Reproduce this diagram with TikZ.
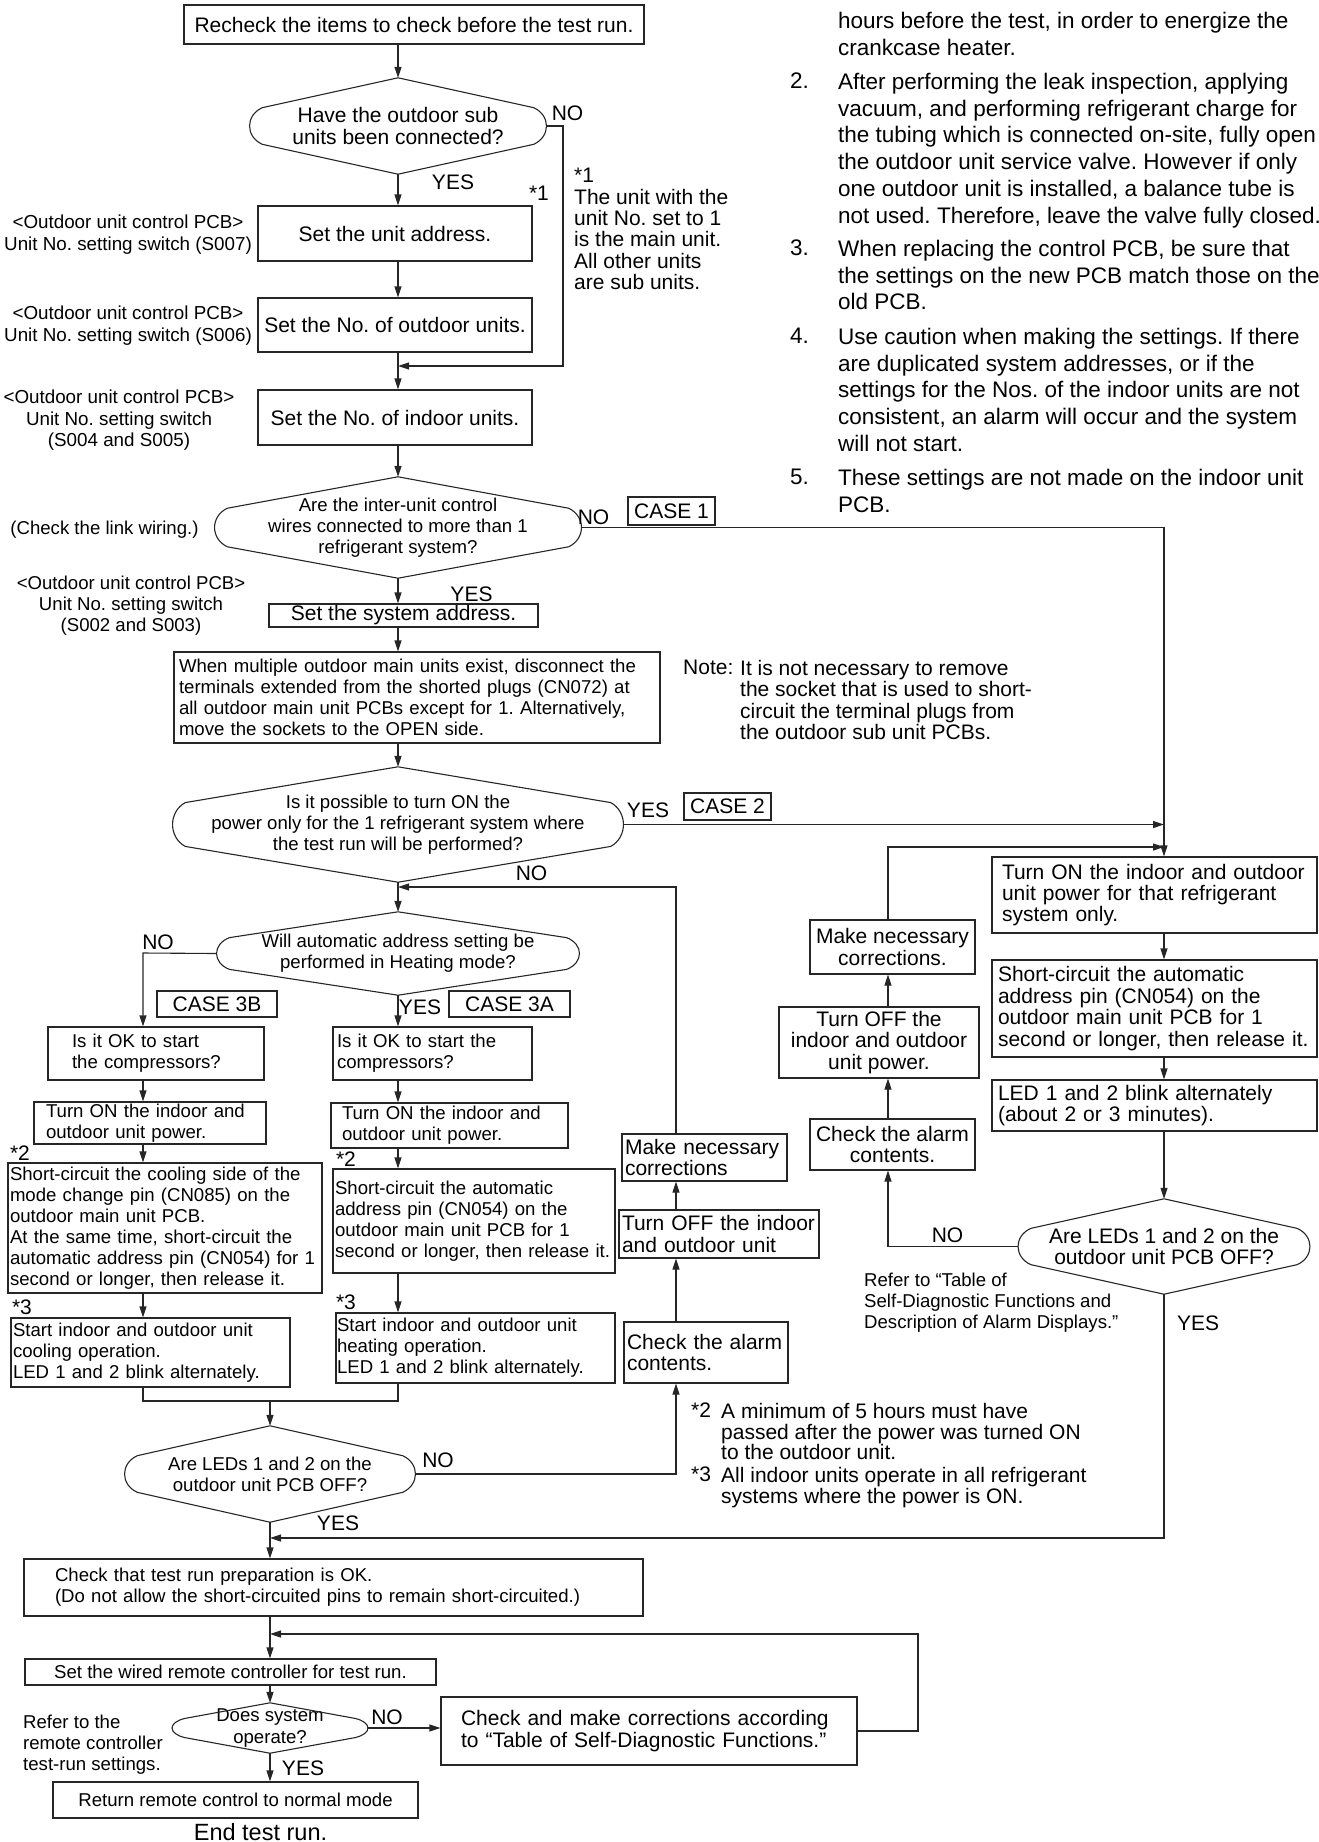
\documentclass[tikz,border=0pt]{standalone}
\usepackage{fontspec}
\setmainfont{Liberation Sans}
\frenchspacing
\usetikzlibrary{calc}
\usetikzlibrary{arrows.meta}
\newcommand\fa{\fontsize{21}{21.4}\selectfont}
\newcommand\fb{\fontsize{18.6}{21.1}\selectfont}
\newcommand\fc{\fontsize{18.8}{21.2}\selectfont}
\newcommand\fn{\fontsize{22.5}{26.7}\selectfont}
\tikzstyle{line}=[line width=1.1pt, draw=black!85]
\tikzstyle{flow}=[line, -{Triangle[length=11pt,width=7pt]}]
\tikzstyle{box}=[line, draw, inner sep=0pt, align=left]
\tikzstyle{cbox}=[line, draw, inner sep=0pt, align=center]
\tikzstyle{decision}=[inner sep=0pt, align=center]
\tikzstyle{txt}=[inner sep=0pt, align=left, anchor=north west]
\tikzstyle{lbl}=[inner sep=0pt, align=center, anchor=north]
\tikzstyle{yn}=[inner sep=0pt, font=\fa]
\newcommand\decshape[1]{%
  \draw[line] (#1.north)
    -- ($(#1.west)!0.38!(#1.north west)+(13pt,0pt)$)
    .. controls ($(#1.west)!0.22!(#1.north west)+(-4pt,0pt)$) and ($(#1.west)!0.22!(#1.south west)+(-4pt,0pt)$)
    .. ($(#1.west)!0.38!(#1.south west)+(13pt,0pt)$)
    -- (#1.south)
    -- ($(#1.east)!0.38!(#1.south east)+(-13pt,0pt)$)
    .. controls ($(#1.east)!0.22!(#1.south east)+(4pt,0pt)$) and ($(#1.east)!0.22!(#1.north east)+(4pt,0pt)$)
    .. ($(#1.east)!0.38!(#1.north east)+(-13pt,0pt)$)
    -- cycle;}

\begin{document}
\begin{tikzpicture}[x=1pt, y=-1pt]
\useasboundingbox (0,0) rectangle (1319,1842);

\node[cbox, font=\fa, minimum width=460pt, minimum height=39pt] (recheck) at (414,24.5) {Recheck the items to check before the test run.};
\node[decision, font=\fa, minimum width=297pt, minimum height=96pt] (dec1) at (398,126) {Have the outdoor sub\\units been connected?};
\node[cbox, font=\fa, minimum width=274pt, minimum height=55pt] (unitaddr) at (395,233.5) {Set the unit address.};
\node[cbox, font=\fa, minimum width=274pt, minimum height=54pt] (outunits) at (395,325) {Set the No. of outdoor units.};
\node[cbox, font=\fa, minimum width=274pt, minimum height=55pt] (inunits) at (395,417.5) {Set the No. of indoor units.};
\node[decision, font=\fb, minimum width=367pt, minimum height=101pt] (dec2) at (398,527.5) {Are the inter-unit control\\wires connected to more than 1\\refrigerant system?};
\node[cbox, font=\fa, minimum width=269pt, minimum height=23pt] (sysaddr) at (403.5,615.5) {Set the system address.};
\node[box, font=\fb, text width=476pt, inner xsep=5pt, minimum height=91pt] (bigbox) at (417,697.5) {When multiple outdoor main units exist, disconnect the\\terminals extended from the shorted plugs (CN072) at\\all outdoor main unit PCBs except for 1. Alternatively,\\move the sockets to the OPEN side.};
\node[decision, font=\fb, minimum width=451pt, minimum height=115pt] (dec3) at (398,824.5) {Is it possible to turn ON the\\power only for the 1 refrigerant system where\\the test run will be performed?};
\node[decision, font=\fb, minimum width=363pt, minimum height=83pt] (dec4) at (398,953.5) {Will automatic address setting be\\performed in Heating mode?};

\node[box, font=\fb, text width=168pt, inner xsep=24pt, minimum height=53pt] (L1) at (156,1053.5) {Is it OK to start\\the compressors?};
\node[box, font=\fb, text width=208pt, inner xsep=12pt, minimum height=42pt] (L2) at (150,1123) {Turn ON the indoor and\\outdoor unit power.};
\node[box, font=\fb, text width=310pt, inner xsep=2pt, minimum height=130pt] (L3) at (165,1228) {Short-circuit the cooling side of the\\mode change pin (CN085) on the\\outdoor main unit PCB.\\At the same time, short-circuit the\\automatic address pin (CN054) for 1\\second or longer, then release it.};
\node[box, font=\fb, text width=275pt, inner xsep=2pt, minimum height=69pt] (L4) at (150.5,1352.5) {Start indoor and outdoor unit\\cooling operation.\\LED 1 and 2 blink alternately.};
\node[box, font=\fb, text width=191pt, inner xsep=4pt, minimum height=53pt] (R1) at (432.5,1053.5) {Is it OK to start the\\compressors?};
\node[box, font=\fb, text width=215pt, inner xsep=11pt, minimum height=45pt] (R2) at (449.5,1125.5) {Turn ON the indoor and\\outdoor unit power.};
\node[box, font=\fb, text width=278pt, inner xsep=2pt, minimum height=104pt] (R3) at (474,1221) {Short-circuit the automatic\\address pin (CN054) on the\\outdoor main unit PCB for 1\\second or longer, then release it.};
\node[box, font=\fb, text width=277pt, inner xsep=1pt, minimum height=70pt] (R4) at (475.5,1348) {Start indoor and outdoor unit\\heating operation.\\LED 1 and 2 blink alternately.};

\node[box, font=\fa, text width=159pt, inner xsep=3pt, minimum height=47pt] (mk1) at (704.5,1157.5) {Make necessary\\corrections};
\node[box, font=\fa, text width=194pt, inner xsep=3pt, minimum height=48pt] (off1) at (719,1234) {Turn OFF the indoor\\and outdoor unit};
\node[box, font=\fa, text width=158pt, inner xsep=3pt, minimum height=61pt] (chk1) at (706,1352.5) {Check the alarm\\contents.};

\node[cbox, font=\fa, minimum width=165pt, minimum height=54pt] (mk2) at (892.5,947) {Make necessary\\corrections.};
\node[cbox, font=\fa, minimum width=200pt, minimum height=71pt] (off2) at (879,1042.5) {Turn OFF the\\indoor and outdoor\\unit power.};
\node[cbox, font=\fa, minimum width=165pt, minimum height=51pt] (chk3) at (892.5,1144.5) {Check the alarm\\contents.};

\node[box, font=\fa, text width=305pt, inner xsep=10pt, minimum height=76pt] (on3) at (1154.5,895) {Turn ON the indoor and outdoor\\unit power for that refrigerant\\system only.};
\node[box, font=\fa, text width=313pt, inner xsep=6pt, minimum height=97pt] (sc3) at (1154.5,1008.5) {Short-circuit the automatic\\address pin (CN054) on the\\outdoor main unit PCB for 1\\second or longer, then release it.};
\node[box, font=\fa, text width=313pt, inner xsep=6pt, minimum height=51pt] (led3) at (1154.5,1105.5) {LED 1 and 2 blink alternately\\(about 2 or 3 minutes).};
\node[decision, font=\fa, minimum width=292pt, minimum height=95pt] (dec7) at (1164,1246.5) {Are LEDs 1 and 2 on the\\outdoor unit PCB OFF?};

\node[decision, font=\fb, minimum width=291pt, minimum height=96pt] (dec5) at (270,1474) {Are LEDs 1 and 2 on the\\outdoor unit PCB OFF?};
\node[box, font=\fb, text width=557pt, inner xsep=31pt, minimum height=57pt] (prep) at (333.5,1587.5) {Check that test run preparation is OK.\\(Do not allow the short-circuited pins to remain short-circuited.)};
\node[cbox, font=\fb, minimum width=411pt, minimum height=26pt] (wired) at (230.5,1672) {Set the wired remote controller for test run.};
\node[decision, font=\fb, minimum width=196pt, minimum height=50pt] (dec6) at (270,1728) {Does system\\operate?};
\node[box, font=\fa, text width=376pt, inner xsep=20pt, minimum height=68pt] (chk2) at (649,1731) {Check and make corrections according\\to “Table of Self-Diagnostic Functions.”};
\node[cbox, font=\fb, minimum width=365pt, minimum height=36pt] (ret) at (235.5,1800) {Return remote control to normal mode};
\node[inner sep=0pt, font=\fontsize{23.5}{24}\selectfont] (endrun) at (260.5,1832) {End test run.};

\node[cbox, font=\fa, minimum width=87pt, minimum height=28pt] (case1) at (671.5,511) {CASE 1};
\node[cbox, font=\fa, minimum width=87pt, minimum height=27pt] (case2) at (727.5,806.5) {CASE 2};
\node[cbox, font=\fa, minimum width=120pt, minimum height=26pt] (case3b) at (217,1004) {CASE 3B};
\node[cbox, font=\fa, minimum width=121pt, minimum height=26pt] (case3a) at (509.5,1004) {CASE 3A};

\decshape{dec1}
\decshape{dec2}
\decshape{dec3}
\decshape{dec4}
\decshape{dec5}
\decshape{dec6}
\decshape{dec7}

\node[yn] (no1) at (567.5,113) {NO};
\node[yn] (yes1) at (453,182) {YES};
\node[yn] (star1) at (539,193) {*1};
\node[yn] (no2) at (593.5,517) {NO};
\node[yn] (yes2) at (471.5,594) {YES};
\node[yn] (yes3) at (648,810) {YES};
\node[yn] (no3) at (531.5,873) {NO};
\node[yn] (no4) at (158,942) {NO};
\node[yn] (yes4) at (420,1007) {YES};
\node[yn] (no5) at (438,1460) {NO};
\node[yn] (yes5) at (338,1523) {YES};
\node[yn] (no6) at (387,1717) {NO};
\node[yn] (yes6) at (303,1768) {YES};
\node[yn] (no7) at (947.5,1235) {NO};
\node[yn] (yes7) at (1198,1323) {YES};
\node[yn] (st2a) at (20,1153) {*2};
\node[yn] (st2b) at (346,1159) {*2};
\node[yn] (st3a) at (22,1307) {*3};
\node[yn] (st3b) at (346,1302) {*3};

\node[txt, font=\fa] (unitnote) at (574,168) {*1\\The unit with the\\unit No. set to 1\\is the main unit.\\All other units\\are sub units.};
\node[lbl, font=\fc] (pcb1) at (128,215) {<Outdoor unit control PCB>\\Unit No. setting switch (S007)};
\node[lbl, font=\fc] (pcb2) at (128,306) {<Outdoor unit control PCB>\\Unit No. setting switch (S006)};
\node[lbl, font=\fc] (pcb3) at (119,390) {<Outdoor unit control PCB>\\Unit No. setting switch\\(S004 and S005)};
\node[inner sep=0pt, font=\fb] (wiring) at (104.5,530) {(Check the link wiring.)};
\node[lbl, font=\fb] (pcb4) at (131,576) {<Outdoor unit control PCB>\\Unit No. setting switch\\(S002 and S003)};
\node[txt, font=\fa] (notehd) at (683,660) {Note:};
\node[txt, font=\fa] (notetx) at (740,660) {It is not necessary to remove\\the socket that is used to short-\\circuit the terminal plugs from\\the outdoor sub unit PCBs.};
\node[txt, font=\fb] (refer3) at (864,1273) {Refer to “Table of\\Self-Diagnostic Functions and\\Description of Alarm Displays.”};
\node[txt, font=\fontsize{21}{20.7}\selectfont] (fn2) at (691,1403) {*2};
\node[txt, font=\fontsize{21}{20.7}\selectfont] (fn2tx) at (721,1403) {A minimum of 5 hours must have\\passed after the power was turned ON\\to the outdoor unit.};
\node[txt, font=\fontsize{21}{20.7}\selectfont] (fn3) at (691,1467) {*3};
\node[txt, font=\fontsize{21}{20.7}\selectfont] (fn3tx) at (721,1467) {All indoor units operate in all refrigerant\\systems where the power is ON.};
\node[txt, font=\fb] (refer2) at (23,1715) {Refer to the\\remote controller\\test-run settings.};

\node[txt, font=\fn] (item1) at (838,12) {hours before the test, in order to energize the\\crankcase heater.};
\node[txt, font=\fn] (num2) at (790,73) {2.};
\node[txt, font=\fn] (item2) at (838,73) {After performing the leak inspection, applying\\vacuum, and performing refrigerant charge for\\the tubing which is connected on-site, fully open\\the outdoor unit service valve. However if only\\one outdoor unit is installed, a balance tube is\\not used. Therefore, leave the valve fully closed.};
\node[txt, font=\fn] (num3) at (790,240) {3.};
\node[txt, font=\fn] (item3) at (838,240) {When replacing the control PCB, be sure that\\the settings on the new PCB match those on the\\old PCB.};
\node[txt, font=\fn] (num4) at (790,328) {4.};
\node[txt, font=\fn] (item4) at (838,328) {Use caution when making the settings. If there\\are duplicated system addresses, or if the\\settings for the Nos. of the indoor units are not\\consistent, an alarm will occur and the system\\will not start.};
\node[txt, font=\fn] (num5) at (790,469) {5.};
\node[txt, font=\fn] (item5) at (838,469) {These settings are not made on the indoor unit\\PCB.};

\coordinate (j1) at (398,366);
\coordinate (b1) at (563,366);
\coordinate (j3) at (398,887);
\coordinate (j2) at (1164,847);
\coordinate (cl) at (143,953);
\coordinate (m1) at (270,1401);
\coordinate (cl2) at (676,1474);
\coordinate (cm) at (888,1246.5);
\coordinate (j5) at (270,1538);
\coordinate (j6) at (270,1634);
\coordinate (b6) at (918,1634);

\draw[flow] (recheck.south -| dec1.north) -- (dec1.north);
\draw[flow] (dec1.south) -- (unitaddr.north -| dec1.south);
\draw[flow] (unitaddr.south -| dec1.south) -- (outunits.north -| dec1.south);
\draw[flow] (outunits.south -| dec1.south) -- (inunits.north -| dec1.south);
\draw[flow] (dec1.east) -| (b1) -- (j1);
\draw[flow] (inunits.south -| dec1.south) -- (dec2.north);
\draw[flow] (dec2.south) -- (sysaddr.north -| dec2.south);
\draw[flow] (sysaddr.south -| dec2.south) -- (bigbox.north -| dec2.south);
\draw[flow] (bigbox.south -| dec2.south) -- (dec3.north);
\draw[flow] (dec3.south) -- (dec4.north);
\draw[flow] (dec2.east) -| (on3.north -| dec7.north);
\draw[flow] (dec3.east) -- (dec3.east -| dec7.north);
\draw[flow] (mk2.north -| cm) |- (j2);

\draw[flow] (dec4.west) -- (cl) -- (L1.north -| cl);
\draw[flow] (L1.south -| cl) -- (L2.north -| cl);
\draw[flow] (L2.south -| cl) -- (L3.north -| cl);
\draw[flow] (L3.south -| cl) -- (L4.north -| cl);
\draw[flow] (dec4.south) -- (R1.north -| dec4.south);
\draw[flow] (R1.south -| dec4.south) -- (R2.north -| dec4.south);
\draw[flow] (R2.south -| dec4.south) -- (R3.north -| dec4.south);
\draw[flow] (R3.south -| dec4.south) -- (R4.north -| dec4.south);
\draw[line] (L4.south -| cl) |- (m1) -| (R4.south -| dec4.south);
\draw[flow] (m1) -- (dec5.north);

\draw[flow] (dec5.east) -- (cl2) -- (chk1.south -| cl2);
\draw[flow] (chk1.north -| cl2) -- (off1.south -| cl2);
\draw[flow] (off1.north -| cl2) -- (mk1.south -| cl2);
\draw[flow] (mk1.north -| cl2) |- (j3);

\draw[flow] (on3.south -| dec7.north) -- (sc3.north -| dec7.north);
\draw[flow] (sc3.south -| dec7.north) -- (led3.north -| dec7.north);
\draw[flow] (led3.south -| dec7.north) -- (dec7.north);
\draw[flow] (dec7.west) -- (cm) -- (chk3.south -| cm);
\draw[flow] (chk3.north -| cm) -- (off2.south -| cm);
\draw[flow] (off2.north -| cm) -- (mk2.south -| cm);
\draw[flow] (dec7.south) |- (j5);

\draw[flow] (dec5.south) -- (prep.north -| dec5.south);
\draw[flow] (prep.south -| dec5.south) -- (wired.north -| dec5.south);
\draw[flow] (wired.south -| dec5.south) -- (dec6.north);
\draw[flow] (dec6.east) -- (dec6.east -| chk2.west);
\draw[flow] (chk2.east) -| (b6) -- (j6);
\draw[flow] (dec6.south) -- (ret.north -| dec6.south);
\end{tikzpicture}
\end{document}
